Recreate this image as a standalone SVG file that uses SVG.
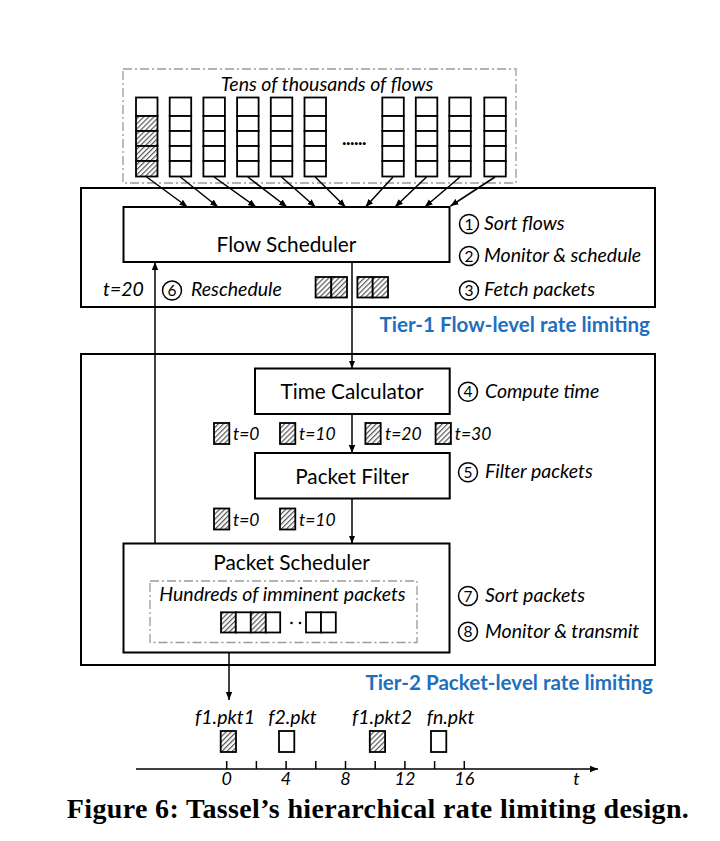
<svg xmlns="http://www.w3.org/2000/svg" width="720" height="841" viewBox="0 0 720 841">
<style>
.box{fill:#fff;stroke:#000;stroke-width:2}
.cell{fill:#fff;stroke:#000;stroke-width:1.8}
.hc{fill:url(#hatch);stroke:#000;stroke-width:1.8}
.dash{fill:none;stroke:#9a9a9a;stroke-width:1.3;stroke-dasharray:9 3 2 3}
.conn{fill:none;stroke:#000;stroke-width:1.5}
.arr{marker-end:url(#ah)}
.circ{fill:none;stroke:#000;stroke-width:1.5}
text{font-family:Lato,"Open Sans","Liberation Sans",sans-serif;fill:#000}
.lbl{font-size:20.8px;text-anchor:middle}
.it{font-style:italic;font-size:19.5px}
.ts{font-style:italic;font-size:17.5px}
.tk{font-style:italic;font-size:18px;text-anchor:middle}
.num{font-size:15.5px;text-anchor:middle}
.mid{text-anchor:middle}
.tier{font-weight:bold;font-size:20.6px;fill:#1f6fbf;text-anchor:end}
.cap{font-family:"Liberation Serif","Times New Roman",serif;font-weight:bold;font-size:28px;letter-spacing:0.35px;text-anchor:middle}
</style>
<defs>
<pattern id="hatch" patternUnits="userSpaceOnUse" width="3.6" height="3.6" patternTransform="rotate(45)">
<rect width="3.6" height="3.6" fill="#fff"/>
<line x1="0.6" y1="0" x2="0.6" y2="3.6" stroke="#555" stroke-width="1.2"/>
</pattern>
<marker id="ah" viewBox="0 0 10 10" refX="10" refY="5" markerWidth="8" markerHeight="8" orient="auto" markerUnits="userSpaceOnUse">
<path d="M0,1 L10,5 L0,9 z" fill="#000"/>
</marker>
</defs>
<rect width="720" height="841" fill="#fff"/>

<g id="tier1">
<rect class="box" x="81" y="188" width="574" height="119"/>
<text class="tier" x="650" y="332">Tier-1 Flow-level rate limiting</text>
</g>
<g id="tier2">
<rect class="box" x="81" y="354" width="574" height="311"/>
<text class="tier" x="653" y="690">Tier-2 Packet-level rate limiting</text>
</g>

<g id="flows">
<rect class="dash" x="123" y="69" width="393" height="114"/>
<text class="it mid" x="327" y="91">Tens of thousands of flows</text>
<g id="flow-col-1">
<rect class="cell" x="136" y="97.5" width="21.5" height="18.5"/>
<rect class="hc" x="136" y="116" width="21.5" height="15"/>
<rect class="hc" x="136" y="131" width="21.5" height="15"/>
<rect class="hc" x="136" y="146" width="21.5" height="15"/>
<rect class="hc" x="136" y="161" width="21.5" height="15.5"/>
</g>
<g id="flow-cols">
<g transform="translate(169.7,0)"><rect class="cell" x="0" y="97.5" width="21.5" height="18.5"/><rect class="cell" x="0" y="116" width="21.5" height="15"/><rect class="cell" x="0" y="131" width="21.5" height="15"/><rect class="cell" x="0" y="146" width="21.5" height="15"/><rect class="cell" x="0" y="161" width="21.5" height="15.5"/></g>
<g transform="translate(203.4,0)"><rect class="cell" x="0" y="97.5" width="21.5" height="18.5"/><rect class="cell" x="0" y="116" width="21.5" height="15"/><rect class="cell" x="0" y="131" width="21.5" height="15"/><rect class="cell" x="0" y="146" width="21.5" height="15"/><rect class="cell" x="0" y="161" width="21.5" height="15.5"/></g>
<g transform="translate(237.1,0)"><rect class="cell" x="0" y="97.5" width="21.5" height="18.5"/><rect class="cell" x="0" y="116" width="21.5" height="15"/><rect class="cell" x="0" y="131" width="21.5" height="15"/><rect class="cell" x="0" y="146" width="21.5" height="15"/><rect class="cell" x="0" y="161" width="21.5" height="15.5"/></g>
<g transform="translate(270.8,0)"><rect class="cell" x="0" y="97.5" width="21.5" height="18.5"/><rect class="cell" x="0" y="116" width="21.5" height="15"/><rect class="cell" x="0" y="131" width="21.5" height="15"/><rect class="cell" x="0" y="146" width="21.5" height="15"/><rect class="cell" x="0" y="161" width="21.5" height="15.5"/></g>
<g transform="translate(304.5,0)"><rect class="cell" x="0" y="97.5" width="21.5" height="18.5"/><rect class="cell" x="0" y="116" width="21.5" height="15"/><rect class="cell" x="0" y="131" width="21.5" height="15"/><rect class="cell" x="0" y="146" width="21.5" height="15"/><rect class="cell" x="0" y="161" width="21.5" height="15.5"/></g>
<g transform="translate(382.3,0)"><rect class="cell" x="0" y="97.5" width="21.5" height="18.5"/><rect class="cell" x="0" y="116" width="21.5" height="15"/><rect class="cell" x="0" y="131" width="21.5" height="15"/><rect class="cell" x="0" y="146" width="21.5" height="15"/><rect class="cell" x="0" y="161" width="21.5" height="15.5"/></g>
<g transform="translate(415.8,0)"><rect class="cell" x="0" y="97.5" width="21.5" height="18.5"/><rect class="cell" x="0" y="116" width="21.5" height="15"/><rect class="cell" x="0" y="131" width="21.5" height="15"/><rect class="cell" x="0" y="146" width="21.5" height="15"/><rect class="cell" x="0" y="161" width="21.5" height="15.5"/></g>
<g transform="translate(449.3,0)"><rect class="cell" x="0" y="97.5" width="21.5" height="18.5"/><rect class="cell" x="0" y="116" width="21.5" height="15"/><rect class="cell" x="0" y="131" width="21.5" height="15"/><rect class="cell" x="0" y="146" width="21.5" height="15"/><rect class="cell" x="0" y="161" width="21.5" height="15.5"/></g>
<g transform="translate(484.3,0)"><rect class="cell" x="0" y="97.5" width="21.5" height="18.5"/><rect class="cell" x="0" y="116" width="21.5" height="15"/><rect class="cell" x="0" y="131" width="21.5" height="15"/><rect class="cell" x="0" y="146" width="21.5" height="15"/><rect class="cell" x="0" y="161" width="21.5" height="15.5"/></g>
</g>
<text x="354" y="145" class="mid" style="font-size:19px;font-weight:bold;letter-spacing:-0.5px">......</text>
</g>

<g id="flow-scheduler">
<rect class="box" x="123.5" y="207" width="326" height="55"/>
<text class="lbl" x="286.5" y="252">Flow Scheduler</text>
</g>

<g id="tier1-notes">
<circle class="circ" cx="469" cy="224" r="9.5"/><text class="num" x="469" y="229.5">1</text>
<text class="it" x="484" y="230">Sort flows</text>
<circle class="circ" cx="469" cy="256" r="9.5"/><text class="num" x="469" y="261.5">2</text>
<text class="it" x="484" y="262">Monitor &amp; schedule</text>
<circle class="circ" cx="469" cy="290.5" r="9.5"/><text class="num" x="469" y="296">3</text>
<text class="it" x="484" y="296">Fetch packets</text>
<text class="it" x="103" y="296">t=20</text>
<circle class="circ" cx="172" cy="290.5" r="9.5"/><text class="num" x="172" y="296">6</text>
<text class="it" x="191" y="296">Reschedule</text>
<rect class="hc" x="315.6" y="277" width="15.7" height="20.5"/>
<rect class="hc" x="331.3" y="277" width="15.7" height="20.5"/>
<rect class="hc" x="357.4" y="277" width="15.3" height="20.5"/>
<rect class="hc" x="372.7" y="277" width="15.3" height="20.5"/>
</g>

<g id="time-calculator">
<rect class="box" x="255" y="368.5" width="194.7" height="45.5"/>
<text class="lbl" x="352" y="399">Time Calculator</text>
</g>
<g id="packet-filter">
<rect class="box" x="255" y="453" width="194.7" height="45.5"/>
<text class="lbl" x="352" y="483.5">Packet Filter</text>
</g>

<g id="tier2-notes">
<circle class="circ" cx="468" cy="391.7" r="9.5"/><text class="num" x="468" y="397.2">4</text>
<text class="it" x="485" y="397.5">Compute time</text>
<circle class="circ" cx="468" cy="472.3" r="9.5"/><text class="num" x="468" y="477.8">5</text>
<text class="it" x="485" y="478">Filter packets</text>
<circle class="circ" cx="468" cy="596" r="9.5"/><text class="num" x="468" y="601.5">7</text>
<text class="it" x="485" y="602">Sort packets</text>
<circle class="circ" cx="468" cy="631.7" r="9.5"/><text class="num" x="468" y="637.2">8</text>
<text class="it" x="485" y="637.5">Monitor &amp; transmit</text>

<rect class="hc" x="214" y="423" width="15.3" height="21"/><text class="ts" x="233" y="440">t=0</text>
<rect class="hc" x="280" y="423" width="15.3" height="21"/><text class="ts" x="299" y="440">t=10</text>
<rect class="hc" x="365.4" y="423" width="15.3" height="21"/><text class="ts" x="385" y="440">t=20</text>
<rect class="hc" x="435.6" y="423" width="15.3" height="21"/><text class="ts" x="454.7" y="440">t=30</text>

<rect class="hc" x="214" y="508.5" width="15.3" height="21"/><text class="ts" x="233" y="525.5">t=0</text>
<rect class="hc" x="280" y="508.5" width="15.3" height="21"/><text class="ts" x="299" y="525.5">t=10</text>
</g>

<g id="packet-scheduler">
<rect class="box" x="123.5" y="543.5" width="326" height="109"/>
<text class="lbl" x="291.5" y="570">Packet Scheduler</text>
<rect class="dash" x="150" y="581" width="267" height="61.5"/>
<text class="it mid" x="282.5" y="601">Hundreds of imminent packets</text>
<rect class="hc" x="221" y="612.3" width="14.8" height="20.2"/>
<rect class="cell" x="235.8" y="612.3" width="15" height="20.2"/>
<rect class="hc" x="250.8" y="612.3" width="15" height="20.2"/>
<rect class="cell" x="265.8" y="612.3" width="14.4" height="20.2"/>
<circle cx="291.5" cy="623" r="1.3" fill="#000"/>
<circle cx="300" cy="623" r="1.3" fill="#000"/>
<rect class="cell" x="306" y="612.3" width="15" height="20.2"/>
<rect class="cell" x="321" y="612.3" width="14.8" height="20.2"/>
</g>

<g id="connectors">
<line class="conn arr" x1="146.7" y1="177" x2="187.5" y2="207"/>
<line class="conn arr" x1="180.4" y1="177" x2="218" y2="207"/>
<line class="conn arr" x1="214.1" y1="177" x2="256" y2="207"/>
<line class="conn arr" x1="247.8" y1="177" x2="287" y2="207"/>
<line class="conn arr" x1="281.5" y1="177" x2="315.5" y2="207"/>
<line class="conn arr" x1="315.2" y1="177" x2="345.5" y2="207"/>
<line class="conn arr" x1="393" y1="177" x2="365.5" y2="207"/>
<line class="conn arr" x1="426.5" y1="177" x2="395" y2="207"/>
<line class="conn arr" x1="460" y1="177" x2="424.8" y2="207"/>
<line class="conn arr" x1="495" y1="177" x2="450.5" y2="206"/>
<line class="conn arr" x1="155" y1="543.5" x2="155" y2="262"/>
<line class="conn arr" x1="352" y1="262" x2="352" y2="368.5"/>
<line class="conn arr" x1="352" y1="414" x2="352" y2="453"/>
<line class="conn arr" x1="352" y1="498.5" x2="352" y2="543.5"/>
<line class="conn arr" x1="229" y1="652.5" x2="229" y2="700"/>
</g>

<g id="timeline">
<text class="it mid" x="225" y="723.5">f1.pkt1</text>
<text class="it mid" x="292.5" y="723.5">f2.pkt</text>
<text class="it mid" x="382" y="723.5">f1.pkt2</text>
<text class="it mid" x="450.5" y="723.5">fn.pkt</text>
<rect class="hc" x="220.7" y="731" width="15.3" height="21"/>
<rect class="cell" x="279" y="731" width="15.3" height="21"/>
<rect class="hc" x="369.8" y="731" width="15.3" height="21"/>
<rect class="cell" x="431" y="731" width="15.3" height="21"/>
<line class="conn arr" x1="136" y1="769" x2="598" y2="769"/>
<path class="conn" d="M226.7,761V769M256.4,761V769M286.1,761V769M315.8,761V769M345.5,761V769M375.2,761V769M404.9,761V769M434.6,761V769M464.3,761V769"/>
<text class="tk" x="226.7" y="785">0</text>
<text class="tk" x="286.1" y="785">4</text>
<text class="tk" x="345.5" y="785">8</text>
<text class="tk" x="404.9" y="785">12</text>
<text class="tk" x="464.3" y="785">16</text>
<text class="tk" x="576.5" y="785">t</text>
</g>

<g id="caption">
<text class="cap" x="378" y="818">Figure 6: Tassel’s hierarchical rate limiting design.</text>
</g>
</svg>
